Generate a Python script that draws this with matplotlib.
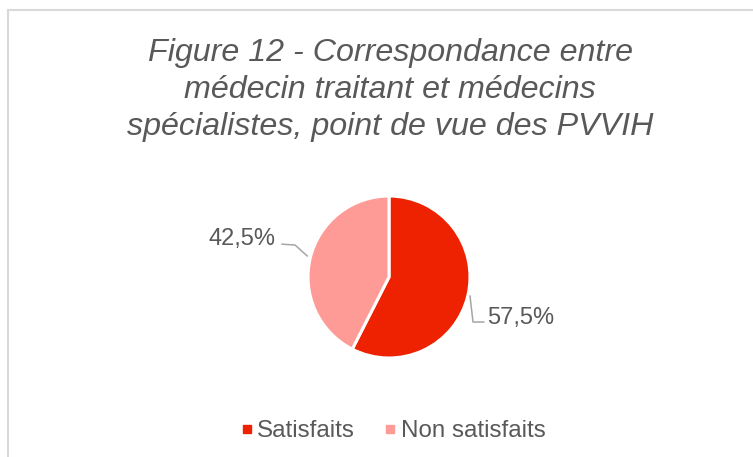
import numpy as np
import matplotlib.pyplot as plt
from matplotlib.lines import Line2D
from matplotlib.patches import Rectangle

title = "Figure 12 - Correspondance entre\nmédecin traitant et médecins\nspécialistes, point de vue des PVVIH"
categories = ["Satisfaits", "Non satisfaits"]
values = [57.5, 42.5]
colors = ["#EE2200", "#FF9B96"]
labels = ["57,5%", "42,5%"]

plt.rcParams['font.family'] = ['Liberation Sans', 'DejaVu Sans']
grey = "#595959"

W, H = 753, 457
fig = plt.figure(figsize=(W / 100, H / 100), dpi=100)

# outer chart border (right/bottom fall outside the picture)
fig.patches.append(Rectangle((7.5 / W, -0.1), 1.2, (H - 9.5) / H + 0.1,
                             transform=fig.transFigure, fill=False,
                             edgecolor="#D9D9D9", linewidth=1.5))

fig.text(390 / W, 1 - 38 / H, title, ha="center", va="top", fontsize=23.2,
         style="italic", color=grey, linespacing=1.31)

cx, cy, r = 389, 277, 81
ax = fig.add_axes([(cx - r) / W, (H - cy - r) / H, 2 * r / W, 2 * r / H])
wedges, _ = ax.pie(values, colors=colors, startangle=90, counterclock=False,
                   wedgeprops=dict(edgecolor="white", linewidth=2.2))
ax.set_xlim(-1, 1)
ax.set_ylim(-1, 1)
ax.set_aspect("equal")
ax.axis("off")

# data labels with leader lines (positions in pie radius units)
lab_pos = [(1.62, -0.51), (-1.815, 0.47)]
leaders = [
    [(1.0, -0.235), (1.037, -0.556), (1.17, -0.556)],
    [(-1.32, 0.405), (-1.16, 0.395), (-1.01, 0.26)],
]
for lab, (x, y), pts in zip(labels, lab_pos, leaders):
    ax.text(x, y, lab, ha="center", va="center", fontsize=17, color=grey,
            clip_on=False)
    xs, ys = zip(*pts)
    ax.plot(xs, ys, color="#A6A6A6", linewidth=1.1, clip_on=False)

handles = [Line2D([], [], marker="s", linestyle="", markersize=5.5,
                  markerfacecolor=c, markeredgecolor=c) for c in colors]
fig.legend(handles, categories, loc="center", bbox_to_anchor=(392 / W, 1 - 431 / H),
           ncol=2, frameon=False, fontsize=17.4, labelcolor=grey,
           handletextpad=0.1, columnspacing=1.1, handlelength=0.7)

fig.savefig("out.png", dpi=100)
